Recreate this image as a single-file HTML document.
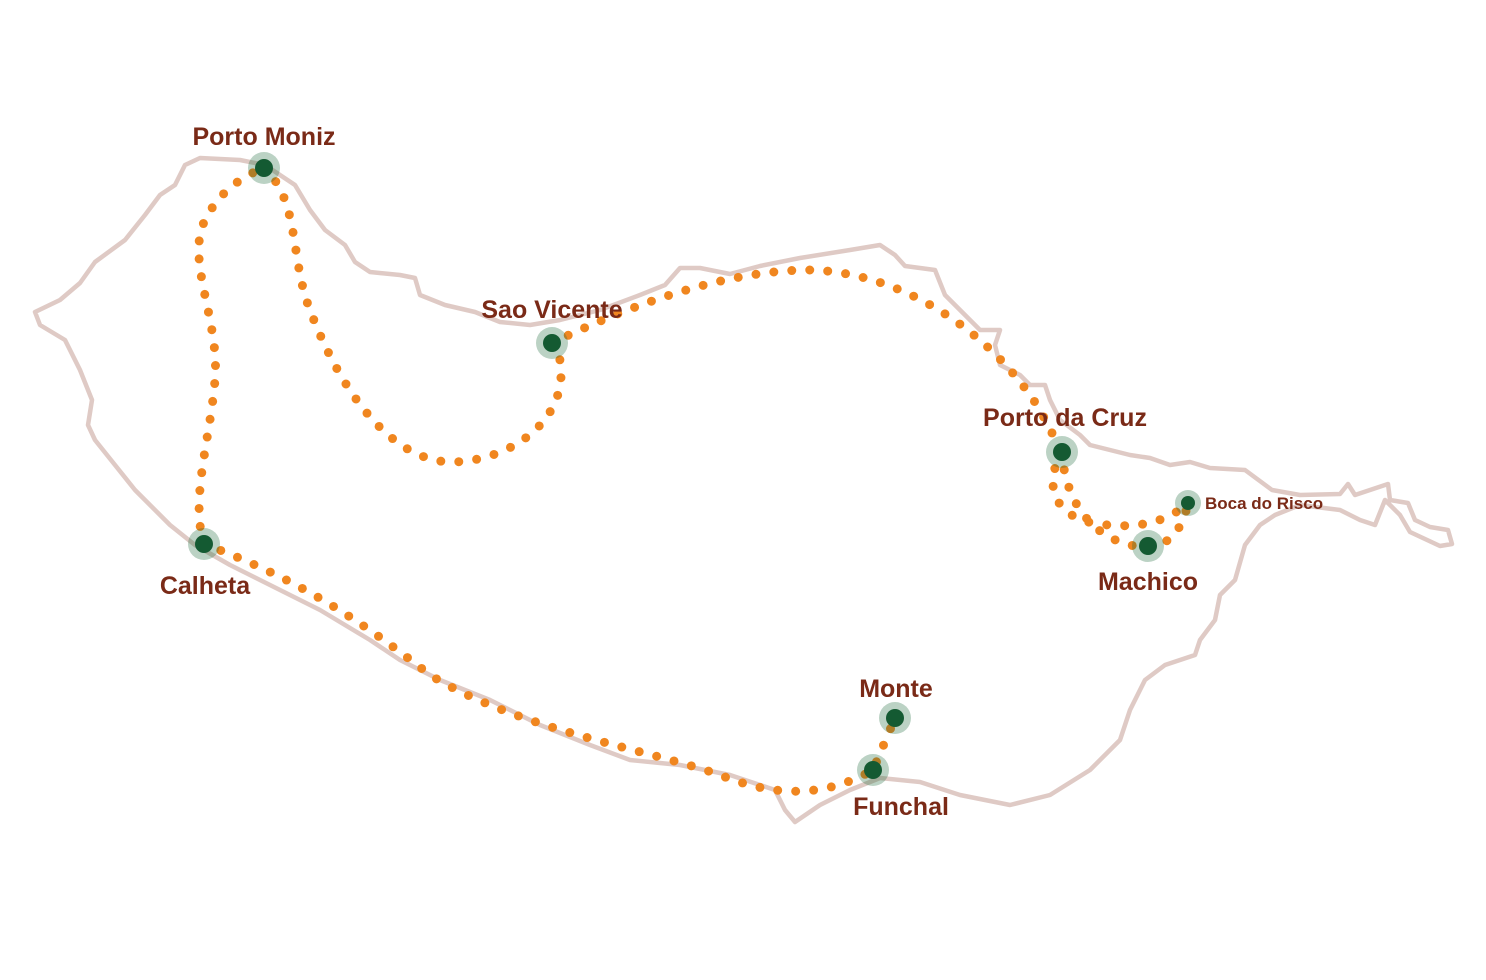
<!DOCTYPE html>
<html><head><meta charset="utf-8"><style>
html,body{margin:0;padding:0;background:#fff;}
svg{display:block}
text{font-family:"Liberation Sans",sans-serif;font-weight:bold;fill:#7a2a17}
</style></head><body>
<svg width="1486" height="980" viewBox="0 0 1486 980" xmlns="http://www.w3.org/2000/svg">
<path fill="none" stroke="#dfcac5" stroke-width="4.5" stroke-linejoin="round" stroke-linecap="round" d="M35,312 L60,300 L80,283 L95,262 L125,240 L145,215 L160,195 L175,185 L185,165 L200,158 L240,160 L265,165 L295,185 L310,210 L325,230 L345,245 L355,262 L370,272 L400,275 L415,278 L420,295 L445,305 L475,312 L500,322 L530,325 L560,320 L600,310 L640,295 L665,285 L680,268 L700,268 L730,274 L760,266 L800,258 L850,250 L880,245 L895,255 L905,266 L935,270 L945,295 L965,315 L980,330 L1000,330 L995,345 L1000,365 L1020,375 L1030,385 L1045,385 L1050,400 L1060,420 L1080,435 L1090,445 L1110,450 L1130,455 L1150,458 L1170,465 L1190,462 L1210,468 L1245,470 L1272,490 L1300,495 L1340,494 L1348,484 L1355,495 L1370,490 L1388,484 L1390,500 L1408,503 L1415,520 L1430,527 L1448,530 L1452,544 L1440,546 L1410,532 L1400,515 L1385,500 L1375,525 L1360,520 L1340,510 L1300,505 L1275,515 L1260,525 L1245,545 L1235,580 L1220,595 L1215,620 L1200,640 L1195,655 L1165,665 L1145,680 L1130,710 L1120,740 L1090,770 L1050,795 L1010,805 L960,795 L920,782 L880,778 L850,790 L820,805 L795,822 L785,810 L775,790 L730,775 L680,765 L630,760 L590,745 L540,725 L490,700 L440,680 L400,660 L370,640 L320,610 L270,585 L230,565 L195,545 L170,525 L135,490 L115,465 L95,440 L88,425 L92,400 L80,370 L65,340 L40,325 Z"/>
<g fill="none" stroke="#f0861f" stroke-width="9" stroke-linecap="round" stroke-dasharray="0 18">
<path d="M204,544 C190,500 210,440 215,380 C220,320 185,260 205,220 C220,190 245,175 264,168"/>
<path d="M264,168 C300,200 290,260 310,310 C340,390 390,460 450,462 C510,462 570,420 560,360 L552,343"/>
<path d="M552,343 C620,310 720,270 810,270 C900,272 990,330 1040,410 L1062,452"/>
<path d="M1062,452 C1040,490 1060,520 1100,524 C1140,530 1170,520 1188,503"/>
<path d="M1062,452 C1065,500 1090,535 1130,545 C1160,552 1180,540 1188,503"/>
<path d="M204,544 C300,580 360,620 430,675 C520,730 650,750 720,775 C770,795 820,800 873,770 L895,718"/>
</g>
<g fill="#1e6b3c" fill-opacity="0.3">
<circle cx="264" cy="168" r="16"/><circle cx="552" cy="343" r="16"/><circle cx="1062" cy="452" r="16"/>
<circle cx="1148" cy="546" r="16"/><circle cx="1188" cy="503" r="13"/><circle cx="204" cy="544" r="16"/>
<circle cx="895" cy="718" r="16"/><circle cx="873" cy="770" r="16"/>
</g>
<g fill="#145a32">
<circle cx="264" cy="168" r="9"/><circle cx="552" cy="343" r="9"/><circle cx="1062" cy="452" r="9"/>
<circle cx="1148" cy="546" r="9"/><circle cx="1188" cy="503" r="7"/><circle cx="204" cy="544" r="9"/>
<circle cx="895" cy="718" r="9"/><circle cx="873" cy="770" r="9"/>
</g>
<text x="264" y="145" font-size="25" text-anchor="middle">Porto Moniz</text>
<text x="552" y="318" font-size="25" text-anchor="middle">Sao Vicente</text>
<text x="1065" y="426" font-size="25" text-anchor="middle">Porto da Cruz</text>
<text x="1205" y="509" font-size="17">Boca do Risco</text>
<text x="1148" y="590" font-size="25" text-anchor="middle">Machico</text>
<text x="205" y="594" font-size="25" text-anchor="middle">Calheta</text>
<text x="896" y="697" font-size="25" text-anchor="middle">Monte</text>
<text x="901" y="815" font-size="25" text-anchor="middle">Funchal</text>
</svg>
</body></html>
